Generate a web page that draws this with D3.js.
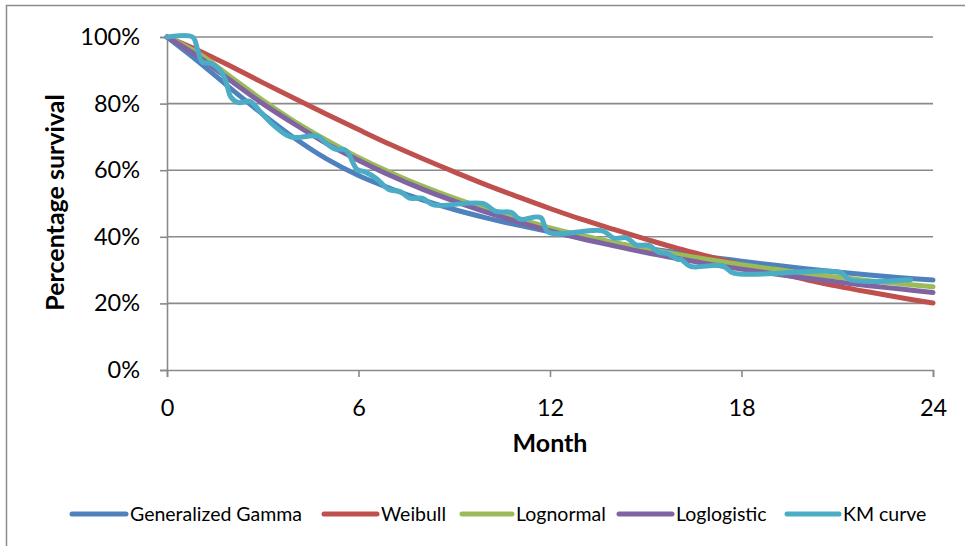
<!DOCTYPE html>
<html><head><meta charset="utf-8">
<script src="https://cdn.jsdelivr.net/npm/d3@7"></script>
<style>html,body{margin:0;padding:0;background:#fff;overflow:hidden}svg{display:block}</style>
</head><body>
<svg id="chart" width="965" height="546"></svg>
<script>
// ---- data ----
const months = [0,1,2,3,4,5,6,7,8,9,10,11,12,13,14,15,16,17,18,19,20,21,22,23,24];
const genGamma = [100,92.5,84.5,76.8,69.6,63.4,58.4,54.5,51.1,48.2,45.7,43.5,41.5,39.7,38.1,36.6,35.2,33.9,32.7,31.5,30.4,29.4,28.5,27.7,27];
const weibull  = [100,95.9,91.2,86.3,81.5,76.8,72.2,67.7,63.5,59.5,55.6,52,48.5,45.2,42.2,39.3,36.5,34,31.6,29.3,27.2,25.2,23.4,21.7,20.1];
const lognormal= [100,95,88,81,74.6,69,63.8,59.3,55.2,51.6,48.4,45.5,42.7,40.4,38.3,36.4,34.7,33.1,31.6,30.3,29,27.9,26.8,25.9,25];
const loglogistic=[100,94,86.9,80,73.8,68,63,58.4,54.3,50.7,47.4,44.5,41.8,39.4,37.3,35.3,33.5,31.8,30.3,28.9,27.6,26.4,25.3,24.3,23.3];
const kmMonths = [0,0.8,0.95,1.1,1.4,1.7,1.85,2.0,2.25,2.6,2.9,3.3,3.75,4.0,4.7,5.0,5.25,5.6,5.95,6.2,6.55,6.95,7.3,7.6,8.0,8.35,9.9,10.3,10.8,11.05,11.7,11.95,13.65,14.0,14.4,14.7,15.1,15.4,15.7,16.0,16.1,16.4,17.4,17.75,21.1,21.4,23.3];
const kmValues = [100,100,96.5,92.5,92,89.5,86.5,82,80.3,80.7,77.8,73.8,70.5,69.8,70.2,68,66.4,66,60.3,59.5,57.6,54.2,53.6,51.6,51.6,49.6,50,47.6,47.3,45.3,45.8,41.4,41.8,39.6,39.7,37.6,37.4,35.4,34.9,33.2,33.2,31.1,31.3,29.1,29.3,27.1,27.1];
const xTicks = [0,6,12,18,24];
const yTicks = [0,0.2,0.4,0.6,0.8,1.0];
const seriesNames = ["Generalized Gamma","Weibull","Lognormal","Loglogistic","KM curve"];
const seriesColors = ["#4F81BD","#C0504D","#9BBB59","#8064A2","#4BACC6"];

// ---- layout ----
const svg = d3.select("#chart");
const plot = {left:167, right:933, top:37, bottom:370};
const font = "Lato, 'Open Sans', sans-serif";

// outer chart border (top and left visible)
svg.append("rect").attr("x",6.5).attr("y",5.5).attr("width",1200).attr("height",800)
  .attr("fill","none").attr("stroke","#8c8c8c").attr("stroke-width",1.5);

const x = d3.scaleLinear().domain([0,24]).range([plot.left, plot.right]);
const y = d3.scaleLinear().domain([0,1]).range([plot.bottom, plot.top]);

// gridlines
svg.append("g").selectAll("line").data(yTicks.filter(d=>d>0)).join("line")
  .attr("x1",plot.left).attr("x2",plot.right)
  .attr("y1",d=>y(d)).attr("y2",d=>y(d))
  .attr("stroke","#8a8a8a").attr("stroke-width",1.6);

// y axis
const yAxis = svg.append("g").attr("transform",`translate(${plot.left},0)`)
  .call(d3.axisLeft(y).tickValues(yTicks).tickFormat(d3.format(".0%")).tickSize(7).tickPadding(20));
yAxis.select(".domain").attr("stroke","#8a8a8a").attr("stroke-width",1.6);
yAxis.selectAll(".tick line").attr("stroke","#8a8a8a").attr("stroke-width",1.6);
yAxis.selectAll("text").attr("font-family",font).attr("font-size",23.5).attr("fill","#000");

// x axis
const xAxis = svg.append("g").attr("transform",`translate(0,${plot.bottom})`)
  .call(d3.axisBottom(x).tickValues(xTicks).tickFormat(d3.format("d")).tickSize(7).tickPadding(22));
xAxis.select(".domain").attr("stroke","#8a8a8a").attr("stroke-width",1.6);
xAxis.selectAll(".tick line").attr("stroke","#8a8a8a").attr("stroke-width",1.6);
xAxis.selectAll("text").attr("font-family",font).attr("font-size",23.5).attr("fill","#000");

// axis titles
svg.append("text").attr("x",(plot.left+plot.right)/2).attr("y",452)
  .attr("text-anchor","middle").attr("font-family",font).attr("font-weight","bold")
  .attr("font-size",25).text("Month");
svg.append("text").attr("transform",`translate(64,${(plot.top+plot.bottom)/2 - 1}) rotate(-90)`)
  .attr("text-anchor","middle").attr("font-family",font).attr("font-weight","bold")
  .attr("font-size",25).text("Percentage survival");

// lines
const fitSeries = [genGamma, weibull, lognormal, loglogistic];
const line = d3.line().x(d=>x(d[0])).y(d=>y(d[1]/100)).curve(d3.curveCatmullRom.alpha(0.5));
fitSeries.forEach((vals,i)=>{
  svg.append("path").datum(months.map((m,j)=>[m, vals[j]]))
    .attr("d",line).attr("fill","none").attr("stroke",seriesColors[i])
    .attr("stroke-width",5).attr("stroke-linejoin","round").attr("stroke-linecap","round");
});
svg.append("path").datum(kmMonths.map((m,j)=>[m, kmValues[j]]))
  .attr("d",line).attr("fill","none").attr("stroke",seriesColors[4])
  .attr("stroke-width",5).attr("stroke-linejoin","round").attr("stroke-linecap","round");

// legend
const legendY = 514;
const legendItems = [
  {sx:72, tx:130},{sx:324, tx:381},{sx:462, tx:516},{sx:619, tx:676},{sx:787, tx:843}
];
seriesNames.forEach((name,i)=>{
  const g = svg.append("g");
  g.append("line").attr("x1",legendItems[i].sx).attr("x2",legendItems[i].tx-4)
    .attr("y1",legendY).attr("y2",legendY).attr("stroke",seriesColors[i])
    .attr("stroke-width",5).attr("stroke-linecap","round");
  g.append("text").attr("x",legendItems[i].tx).attr("y",legendY).attr("dy","0.35em")
    .attr("font-family",font).attr("font-size",19.5).text(name);
});
</script>
</body></html>
